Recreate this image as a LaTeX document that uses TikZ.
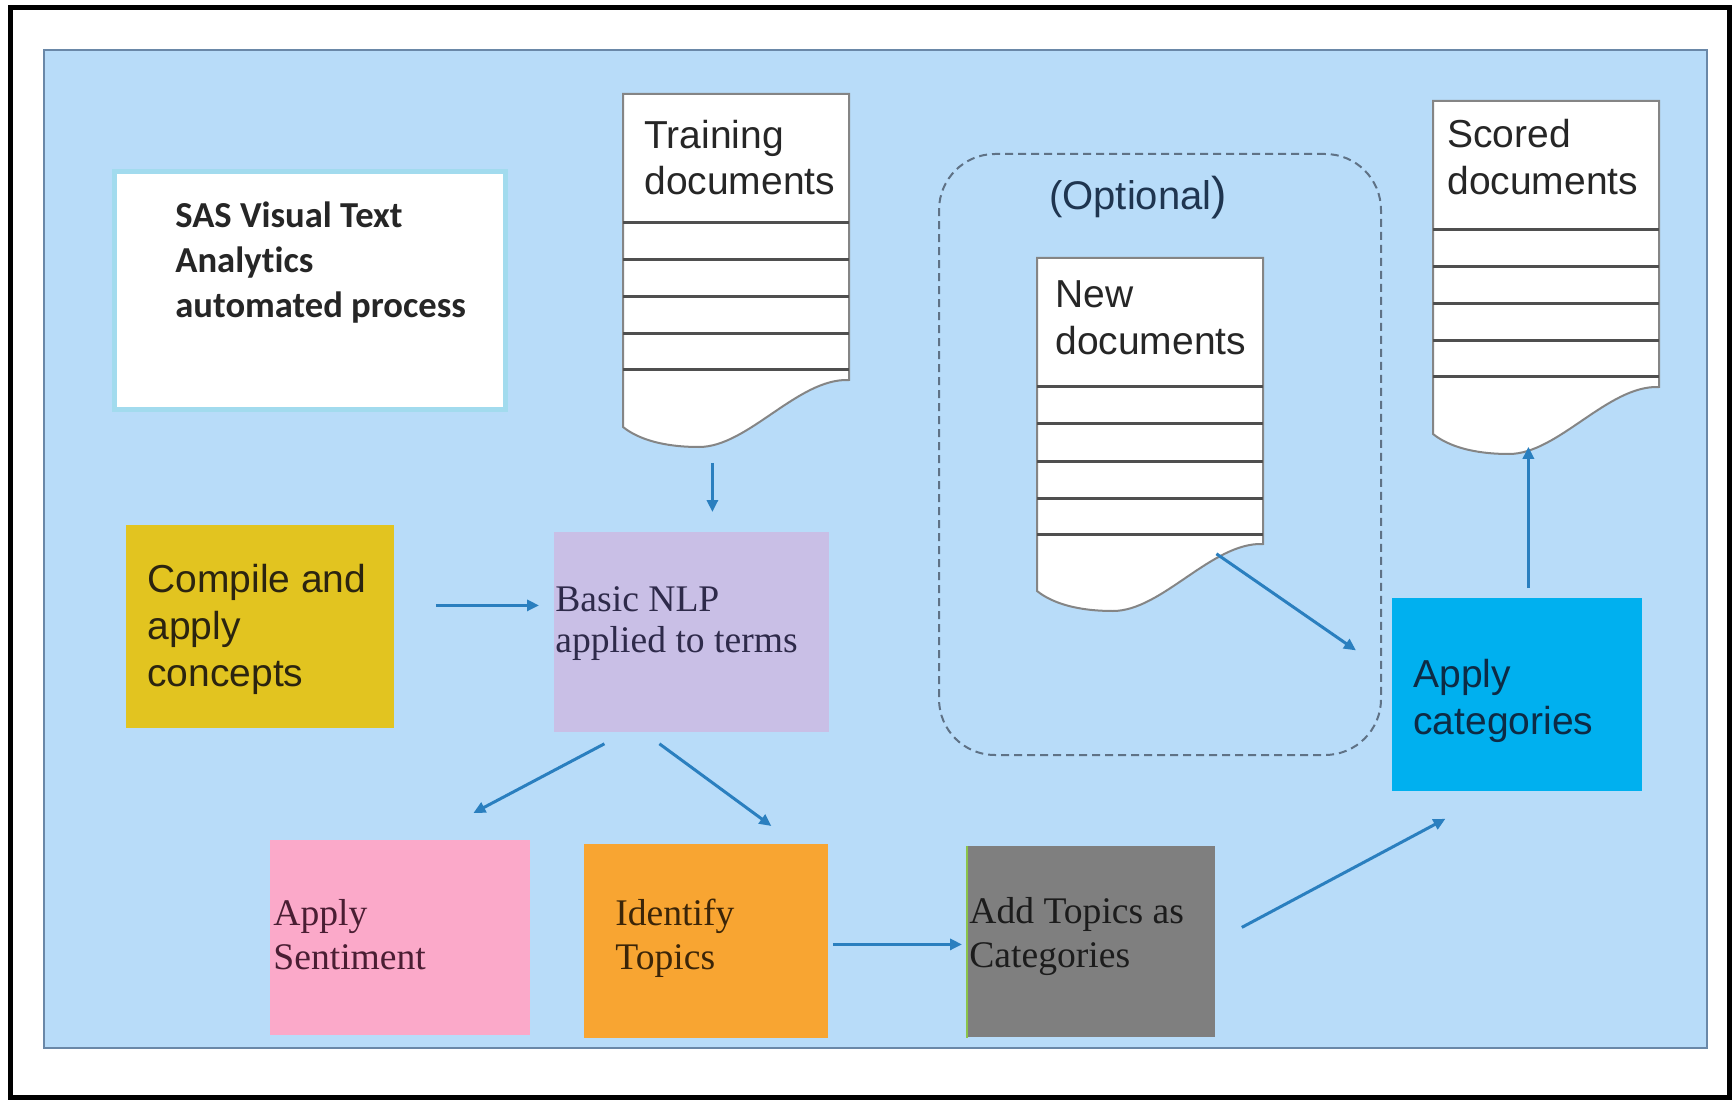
\documentclass[tikz,border=0pt]{standalone}
\usepackage{fontspec}
\setmainfont{Liberation Sans}
\newfontfamily\serifF{Liberation Serif}
\newfontfamily\calF[Ligatures=NoCommon]{Carlito}
\usetikzlibrary{arrows.meta,calc}
\definecolor{panel}{HTML}{B8DCF9}
\definecolor{panelline}{HTML}{6A88A8}
\definecolor{sasline}{HTML}{A2DBEE}
\definecolor{cgold}{HTML}{E2C420}
\definecolor{clav}{HTML}{C9BFE6}
\definecolor{cpink}{HTML}{FBA9C9}
\definecolor{corange}{HTML}{F8A532}
\definecolor{cgray}{HTML}{7F7F7F}
\definecolor{ccyan}{HTML}{00B0EF}
\definecolor{arrowc}{HTML}{2A7FBF}
\definecolor{dashc}{HTML}{5F7286}
\definecolor{docgray}{HTML}{858585}
\definecolor{docrule}{HTML}{4F4F4F}
\definecolor{txt}{HTML}{262626}
\definecolor{optc}{HTML}{1F3550}
\definecolor{comptxt}{HTML}{2B2410}
\definecolor{nlptxt}{HTML}{2E2A4A}
\definecolor{senttxt}{HTML}{4A1E33}
\definecolor{identtxt}{HTML}{3B2508}
\definecolor{addtxt}{HTML}{1C1C1C}
\definecolor{addedge}{HTML}{8BC34A}
\definecolor{applytxt}{HTML}{0D2B45}
\tikzset{
  boxnode/.style={rectangle, inner sep=0pt, anchor=north west, draw=none},
  sansT/.style={font=\fontsize{19.5}{23.5}\selectfont, align=left, inner sep=0pt, anchor=north west, text=txt},
  serifT/.style={font=\serifF\fontsize{18.8}{22}\selectfont, align=left, inner sep=0pt, anchor=north west},
  arr/.style={draw=arrowc, line width=1.5pt, -{Triangle[length=6pt,width=5.5pt]}},
  docoutline/.style={fill=white, draw=docgray, line width=1pt},
  docrules/.style={draw=docrule, line width=1.5pt}
}
\newcommand\DocShape[2]{%
  \begin{scope}[shift={(#1,#2)}]
    \path[docoutline] (0,0) -- (226,0) -- (226,286)
      .. controls (175,284) and (125,353) .. (76,353)
      .. controls (40,353) and (15,345) .. (0,333) -- cycle;
    \foreach \yy in {129,166,203,240,276} \draw[docrules] (0,\yy) -- (226,\yy);
  \end{scope}}
\begin{document}
\begin{tikzpicture}[x=0.5pt,y=-0.5pt]
\useasboundingbox (0,0) rectangle (1734,1101);
\fill[white] (0,0) rectangle (1734,1101);
% outer frame and panel
\draw[black, line width=2.5pt] (10.5,7.5) rectangle (1729,1097.5);
\filldraw[fill=panel, draw=panelline, line width=1pt] (44,50) rectangle (1707,1048);

% title box
\node[boxnode, fill=white, draw=sasline, line width=2.5pt, minimum width=195.5pt, minimum height=119pt] (sas) at (112,169) {};
\node[font=\calF\bfseries\fontsize{18.3}{22.5}\selectfont, align=left, inner sep=0pt, anchor=north west, text=txt] (sasT) at (175,201) {SAS Visual Text\\Analytics\\automated process};

% optional dashed region
\node[boxnode, draw=dashc, dashed, dash pattern=on 4pt off 2.5pt, line width=1pt, rounded corners=28pt, minimum width=221pt, minimum height=300.5pt] (opt) at (938,153) {};
\node[font=\fontsize{20}{24}\selectfont, inner sep=0pt, anchor=base, text=optc] (optT) at (1138,210) {(Optional{\fontsize{23}{24}\selectfont)}};

% documents
\DocShape{623}{94}
\node[boxnode, minimum width=113pt, minimum height=176.5pt] (train) at (623,94) {};
\node[sansT, font=\fontsize{19.5}{23}\selectfont] (trainT) at (644,120) {Training\\documents};

\DocShape{1037}{258}
\node[boxnode, minimum width=113pt, minimum height=177pt] (newd) at (1037,258) {};
\node[sansT] (newT) at (1055,280) {New\\documents};

\DocShape{1433}{101}
\node[boxnode, minimum width=113pt, minimum height=174pt] (scored) at (1433,101) {};
\node[sansT] (scoredT) at (1447,119) {Scored\\documents};

% process boxes
\node[boxnode, fill=cgold, minimum width=134pt, minimum height=101.5pt] (compile) at (126,525) {};
\node[sansT, text=comptxt] (compT) at (147,564) {Compile and\\apply\\concepts};

\node[boxnode, fill=clav, minimum width=137.5pt, minimum height=100pt] (nlp) at (554,532) {};
\node[serifT, font=\serifF\fontsize{18.8}{20.5}\selectfont, text=nlptxt] (nlpT) at (555,586) {Basic NLP\\applied to terms};

\node[boxnode, fill=cpink, minimum width=130pt, minimum height=97.5pt] (sent) at (270,840) {};
\node[serifT, text=senttxt] (sentT) at (273,899) {Apply\\Sentiment};

\node[boxnode, fill=corange, minimum width=122pt, minimum height=97pt] (ident) at (584,844) {};
\node[serifT, text=identtxt] (identT) at (615,899) {Identify\\Topics};

\node[boxnode, fill=cgray, minimum width=124pt, minimum height=95.5pt] (addt) at (967,846) {};
\draw[addedge, line width=0.6pt] (addt.north west) -- (addt.south west);
\node[serifT, text=addtxt] (addT) at (969,897) {Add Topics as\\Categories};

\node[boxnode, fill=ccyan, minimum width=125pt, minimum height=96.5pt] (applyc) at (1392,598) {};
\node[sansT, text=applytxt] (applyT) at (1413,659) {Apply\\categories};

% connectors
\draw[arr] ($(train.south)+(-24,15)$) -- ($(nlp.north)+(20.5,-20)$);
\draw[arr] ($(compile.east)+(41,-21.5)$) -- ($(nlp.west)+(-15,-27)$);
\draw[arr] ($(nlp.south)+(-87.5,11)$) -- ($(sent.north)+(73,-27)$);
\draw[arr] ($(nlp.south)+(-32.5,11)$) -- ($(ident.north)+(65,-18)$);
\draw[arr] ($(ident.east)+(4,3)$) -- ($(addt.west)+(-5,2.5)$);
\draw[arr] ($(addt.east)+(26,-14.5)$) -- ($(applyc.south)+(-72,27)$);
\draw[arr] ($(newd.south)+(66,-59)$) -- ($(applyc.west)+(-36,-44.5)$);
\draw[arr] ($(applyc.north)+(11,-10)$) -- ($(scored.south)+(-18,-3)$);
\end{tikzpicture}
\end{document}
